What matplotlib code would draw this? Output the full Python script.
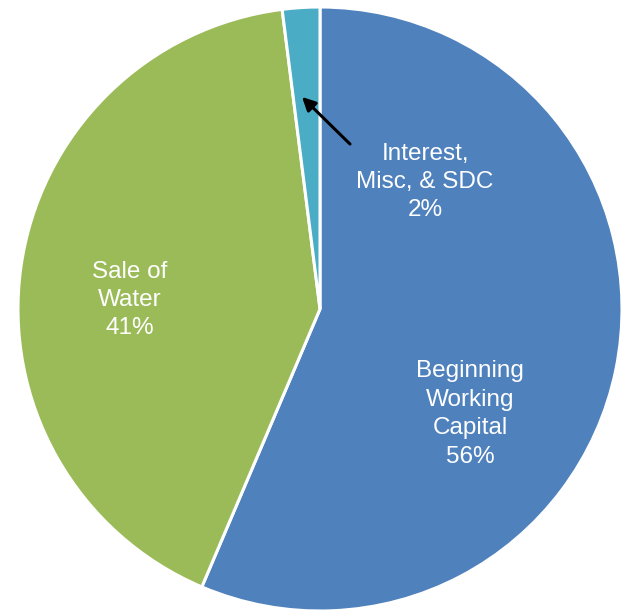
import matplotlib
matplotlib.use("Agg")
import matplotlib.pyplot as plt

categories = ["Beginning\nWorking\nCapital", "Sale of\nWater", "Interest,\nMisc, & SDC"]
values = [56.4, 41.6, 2.0]
pct_labels = ["56%", "41%", "2%"]
colors = ["#4F81BD", "#9BBB59", "#4BACC6"]

plt.rcParams['font.family'] = ['Liberation Sans', 'DejaVu Sans']

fig = plt.figure(figsize=(6.29, 6.13), dpi=100)
ax = fig.add_axes([0, 0, 1, 1])
wedges, _ = ax.pie(values, colors=colors, startangle=90, counterclock=False,
                   radius=1.0, center=(0, 0),
                   wedgeprops=dict(edgecolor="white", linewidth=2.2))
ax.set_aspect("equal")
ax.set_xlim(-320 / 302, (629 - 320) / 302)
ax.set_ylim(-(613 - 309) / 302, 309 / 302)
ax.axis("off")

def px(x, y):
    return ((x - 320) / 302, (309 - y) / 302)

label_pos = [(470, 414), (130, 300), (425, 182)]
for cat, pct, (x, y) in zip(categories, pct_labels, label_pos):
    ax.text(*px(x, y), f"{cat}\n{pct}", ha="center", va="center",
            color="white", fontsize=17.5, linespacing=1.38)

ax.annotate("", xy=px(300, 95), xytext=px(352, 146),
            arrowprops=dict(arrowstyle="-|>", color="black", lw=2.2,
                            mutation_scale=20))

fig.savefig("out.png", dpi=100)
